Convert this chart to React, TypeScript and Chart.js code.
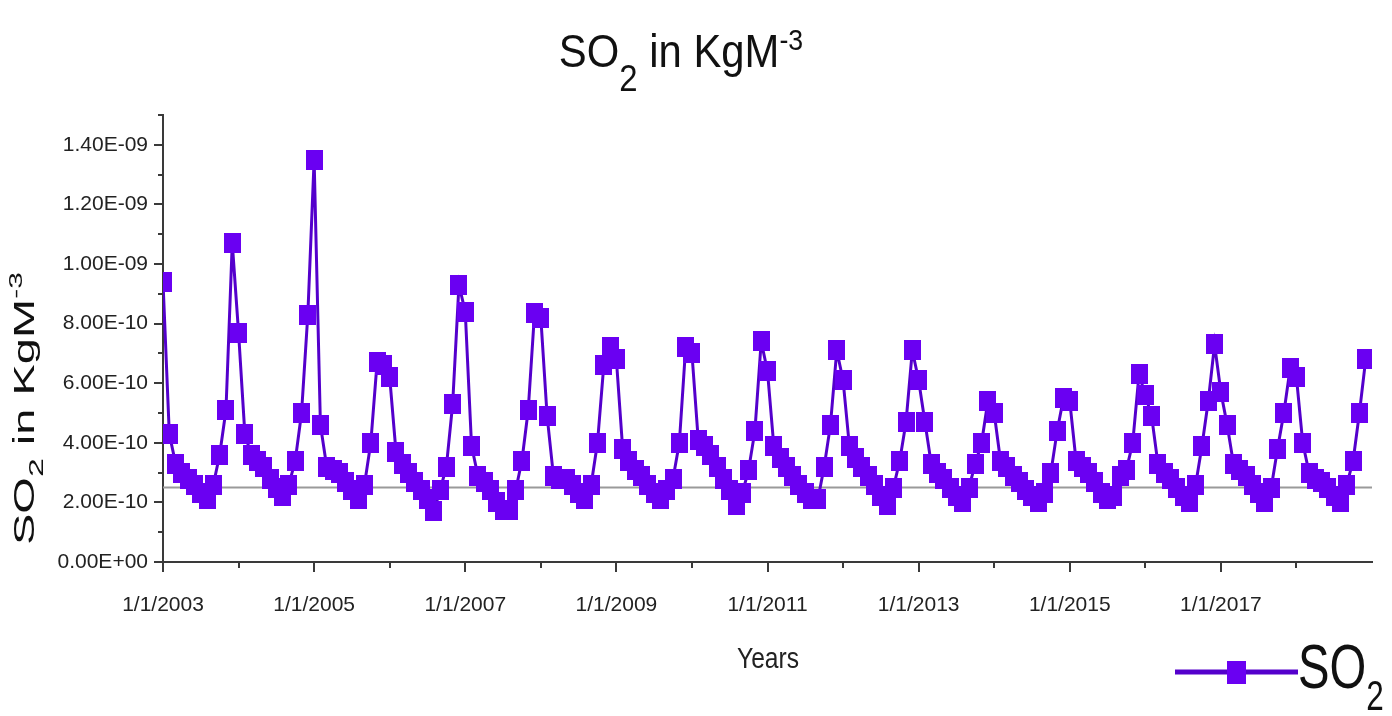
import React, { useEffect, useRef } from "react";
import { Chart, registerables } from "chart.js";

Chart.register(...registerables);

// ---- data (monthly means, Jan..Dec, in units of 1e-10 kg m^-3) ----
const UNIT = 1e-10;
const years = [2003, 2004, 2005, 2006, 2007, 2008, 2009, 2010, 2011, 2012, 2013, 2014, 2015, 2016, 2017, 2018];
const so2_2003 = [9.4, 4.3, 3.3, 3.0, 2.8, 2.6, 2.3, 2.1, 2.6, 3.6, 5.1, 10.7];
const so2_2004 = [7.7, 4.3, 3.6, 3.4, 3.2, 2.8, 2.5, 2.2, 2.6, 3.4, 5.0, 8.3];
const so2_2005 = [13.5, 4.6, 3.2, 3.1, 3.0, 2.7, 2.4, 2.1, 2.6, 4.0, 6.7, 6.6];
const so2_2006 = [6.2, 3.7, 3.3, 3.0, 2.7, 2.4, 2.1, 1.7, 2.4, 3.2, 5.3, 9.3];
const so2_2007 = [8.4, 3.9, 2.9, 2.7, 2.4, 2.0, 1.75, 1.75, 2.4, 3.4, 5.1, 8.35];
const so2_2008 = [8.2, 4.9, 2.9, 2.8, 2.8, 2.6, 2.3, 2.1, 2.6, 4.0, 6.6, 7.2];
const so2_2009 = [6.8, 3.8, 3.4, 3.1, 2.9, 2.6, 2.3, 2.1, 2.4, 2.8, 4.0, 7.2];
const so2_2010 = [7.0, 4.1, 3.9, 3.6, 3.2, 2.8, 2.4, 1.9, 2.3, 3.1, 4.4, 7.4];
const so2_2011 = [6.4, 3.9, 3.5, 3.2, 2.9, 2.6, 2.3, 2.1, 2.1, 3.2, 4.6, 7.1];
const so2_2012 = [6.1, 3.9, 3.5, 3.2, 2.9, 2.6, 2.2, 1.9, 2.5, 3.4, 4.7, 7.1];
const so2_2013 = [6.1, 4.7, 3.3, 3.0, 2.8, 2.5, 2.2, 2.0, 2.5, 3.3, 4.0, 5.4];
const so2_2014 = [5.0, 3.4, 3.2, 2.9, 2.7, 2.4, 2.2, 2.0, 2.3, 3.0, 4.4, 5.5];
const so2_2015 = [5.4, 3.4, 3.2, 3.0, 2.7, 2.3, 2.1, 2.2, 2.9, 3.1, 4.0, 6.3];
const so2_2016 = [5.6, 4.9, 3.3, 3.0, 2.8, 2.5, 2.2, 2.0, 2.6, 3.9, 5.4, 7.3];
const so2_2017 = [5.7, 4.6, 3.3, 3.1, 2.9, 2.6, 2.3, 2.0, 2.5, 3.8, 5.0, 6.5];
const so2_2018 = [6.2, 4.0, 3.0, 2.8, 2.7, 2.5, 2.2, 2.0, 2.6, 3.4, 5.0, 6.8];
const so2Series = [
  so2_2003, so2_2004, so2_2005, so2_2006, so2_2007, so2_2008, so2_2009, so2_2010,
  so2_2011, so2_2012, so2_2013, so2_2014, so2_2015, so2_2016, so2_2017, so2_2018,
];
const referenceLevel = 2.5; // horizontal reference line, units of 1e-10
const yTickSteps = [0, 1, 2, 3, 4, 5, 6, 7, 8, 9, 10, 11, 12, 13, 14, 15]; // x 1e-10
const Y_MAX_STEPS = 15;
const X_MAX_MONTHS = 192;

const FONT = "'Liberation Sans', Arial, Helvetica, sans-serif";
const PURPLE = "#6A00F2";
const PURPLE_LINE = "#5400CC";
const AXIS = "#3a3a3a";

function sci(n: number): string {
  if (n === 0) return "0.00E+00";
  const v = n * UNIT;
  const e = Math.floor(Math.log10(v) + 1e-9);
  const m = v / Math.pow(10, e);
  const ea = Math.abs(e);
  return `${m.toFixed(2)}E${e < 0 ? "-" : "+"}${ea < 10 ? "0" + ea : ea}`;
}

type Part = { t: string; size: number; dy: number };

function drawRich(ctx: CanvasRenderingContext2D, parts: Part[], x: number, y: number, sx: number, sy: number, align: "left" | "center") {
  const widths = parts.map((p) => {
    ctx.font = `${p.size}px ${FONT}`;
    return ctx.measureText(p.t).width * sx;
  });
  const total = widths.reduce((a, b) => a + b, 0);
  let cx = align === "center" ? x - total / 2 : x;
  parts.forEach((p, i) => {
    ctx.save();
    ctx.font = `${p.size}px ${FONT}`;
    ctx.textBaseline = "alphabetic";
    ctx.textAlign = "left";
    ctx.translate(cx, y + p.dy * sy);
    ctx.scale(sx, sy);
    ctx.fillText(p.t, 0, 0);
    ctx.restore();
    cx += widths[i];
  });
}

function makeMarker(w: number, h: number): HTMLCanvasElement {
  const c = document.createElement("canvas");
  c.width = w;
  c.height = h;
  const g = c.getContext("2d")!;
  g.fillStyle = PURPLE;
  g.fillRect(0, 0, w, h);
  return c;
}

export default function App() {
  const ref = useRef<HTMLCanvasElement | null>(null);

  useEffect(() => {
    if (!ref.current) return;
    const marker = makeMarker(17, 20);
    const legendMarker = makeMarker(19, 23);

    const points = so2Series.flat().map((v, i) => ({ x: i, y: v * UNIT }));

    const decor = {
      id: "decor",
      afterDraw(chart: any) {
        const ctx: CanvasRenderingContext2D = chart.ctx;
        const xs = chart.scales.x;
        const ys = chart.scales.y;
        const area = chart.chartArea;
        ctx.save();
        // tick marks
        ctx.strokeStyle = AXIS;
        ctx.lineWidth = 2;
        yTickSteps.forEach((n) => {
          const py = Math.round(ys.getPixelForValue(n * UNIT));
          const len = n % 2 === 0 ? 9 : 5;
          ctx.beginPath();
          ctx.moveTo(area.left - len, py);
          ctx.lineTo(area.left, py);
          ctx.stroke();
        });
        years.forEach((_, k) => {
          const px = Math.round(xs.getPixelForValue(k * 12));
          const len = k % 2 === 0 ? 10 : 6;
          ctx.beginPath();
          ctx.moveTo(px, area.bottom);
          ctx.lineTo(px, area.bottom + len);
          ctx.stroke();
        });

        ctx.fillStyle = "#111";
        // title
        drawRich(
          ctx,
          [
            { t: "SO", size: 47, dy: 0 },
            { t: "2", size: 37, dy: 24 },
            { t: " in KgM", size: 47, dy: 0 },
            { t: "-3", size: 30, dy: -17 },
          ],
          681, 67, 0.89, 1, "center"
        );
        // y axis title (rotated)
        ctx.save();
        ctx.translate(34, 545);
        ctx.rotate(-Math.PI / 2);
        drawRich(
          ctx,
          [
            { t: "SO", size: 47, dy: 0 },
            { t: "2", size: 34, dy: 14 },
            { t: " in KgM", size: 47, dy: 0 },
            { t: "-3", size: 30, dy: -20 },
          ],
          0, 0, 1, 0.62, "left"
        );
        ctx.restore();
        // x axis title
        ctx.fillStyle = "#222";
        drawRich(ctx, [{ t: "Years", size: 30, dy: 0 }], 768, 668, 0.82, 1, "center");

        // legend
        ctx.strokeStyle = PURPLE_LINE;
        ctx.lineWidth = 5;
        ctx.beginPath();
        ctx.moveTo(1175, 672);
        ctx.lineTo(1298, 672);
        ctx.stroke();
        ctx.drawImage(legendMarker, 1236 - 9.5, 672 - 11.5);
        ctx.fillStyle = "#111";
        drawRich(
          ctx,
          [
            { t: "SO", size: 63, dy: 0 },
            { t: "2", size: 42, dy: 22 },
          ],
          1298, 688, 0.75, 1, "left"
        );
        ctx.restore();
      },
    };

    const chart = new Chart(ref.current, {
      type: "line",
      data: {
        datasets: [
          {
            label: "SO2",
            data: points,
            borderColor: PURPLE_LINE,
            borderWidth: 3,
            pointStyle: marker as any,
            pointRadius: 9,
            pointHoverRadius: 9,
            tension: 0,
            fill: false,
          },
          {
            label: "reference",
            data: [
              { x: 0, y: referenceLevel * UNIT },
              { x: X_MAX_MONTHS, y: referenceLevel * UNIT },
            ],
            borderColor: "#9a9a9a",
            borderWidth: 2,
            pointRadius: 0,
            tension: 0,
            fill: false,
          },
        ],
      },
      options: {
        responsive: false,
        animation: false,
        devicePixelRatio: 1,
        layout: { padding: { left: 0, right: 20, top: 115, bottom: 0 } },
        plugins: {
          legend: { display: false },
          title: { display: false },
          tooltip: { enabled: false },
        },
        scales: {
          x: {
            type: "linear",
            min: 0,
            max: X_MAX_MONTHS,
            grid: { display: false, drawTicks: false },
            border: { display: true, color: AXIS, width: 2 },
            afterBuildTicks: (scale: any) => {
              scale.ticks = years.map((_, k) => ({ value: k * 12 }));
            },
            afterFit: (scale: any) => {
              scale.height = 154;
            },
            ticks: {
              autoSkip: false,
              maxRotation: 0,
              padding: 31,
              color: "#222",
              font: { family: FONT, size: 21 },
              callback: (v: any) => {
                const k = Math.round(Number(v) / 12);
                return k % 2 === 0 ? `1/1/${years[0] + k}` : "";
              },
            },
          },
          y: {
            type: "linear",
            min: 0,
            max: Y_MAX_STEPS * UNIT,
            grid: { display: false, drawTicks: false },
            border: { display: true, color: AXIS, width: 2 },
            afterBuildTicks: (scale: any) => {
              scale.ticks = yTickSteps.map((n) => ({ value: n * UNIT }));
            },
            afterFit: (scale: any) => {
              scale.width = 163;
            },
            ticks: {
              autoSkip: false,
              padding: 15,
              color: "#222",
              font: { family: FONT, size: 21 },
              callback: (v: any) => {
                const n = Math.round(Number(v) / UNIT);
                return n % 2 === 0 ? sci(n) : "";
              },
            },
          },
        },
      },
      plugins: [decor],
    });

    return () => chart.destroy();
  }, []);

  return (
    <div style={{ position: "fixed", left: 0, top: 0, width: 1392, height: 716, background: "#fff" }}>
      <canvas ref={ref} width={1392} height={716} style={{ display: "block" }} />
    </div>
  );
}
